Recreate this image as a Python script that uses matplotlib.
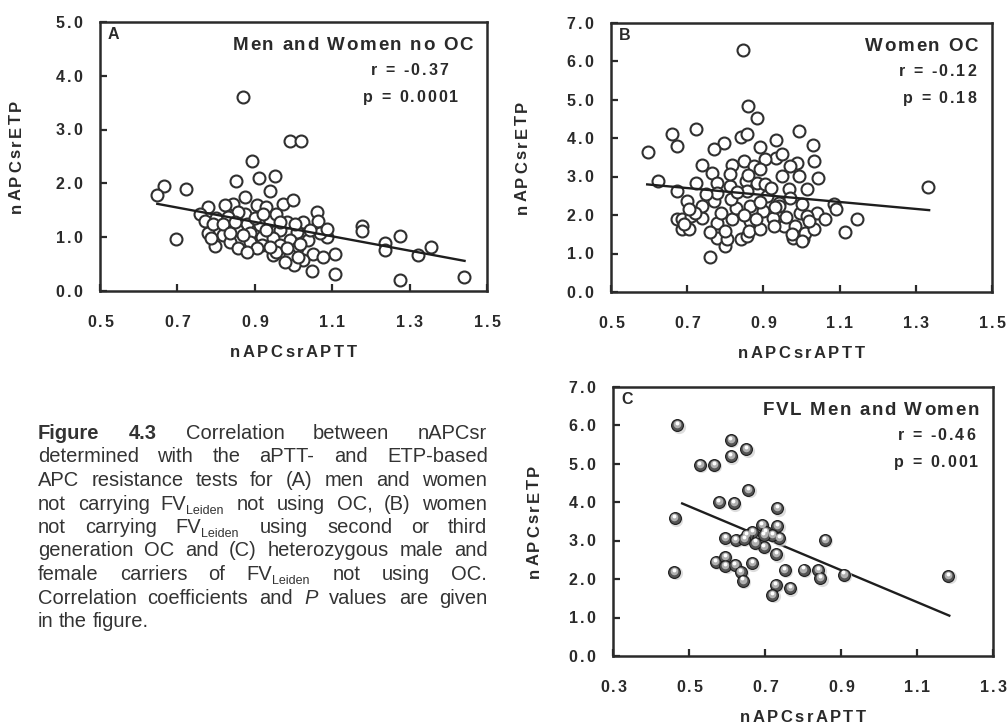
import matplotlib
matplotlib.use("Agg")
import matplotlib.pyplot as plt
from matplotlib.transforms import IdentityTransform, offset_copy
from matplotlib.font_manager import FontProperties, findfont
from matplotlib.ft2font import FT2Font

W, H, DPI = 1008, 724, 100
INK = "#2a2a2a"
FAMILY = "Liberation Sans"

# ---- panel A: men and women no OC
a_x = [0.87, 0.99, 1.02, 0.893, 0.851, 0.912, 0.953, 0.940, 0.665, 0.722, 0.648,
       0.972, 0.998, 0.874, 0.697, 0.797, 1.049, 1.108, 1.106, 1.051, 1.276, 1.276,
       1.237, 1.237, 1.355, 1.322, 1.440, 1.177, 1.177, 1.062, 1.064, 1.086,
       0.844, 0.823, 0.779, 0.905, 0.929, 1.025, 0.982, 0.874, 0.857, 0.758, 0.771,
       0.801, 0.831, 0.879, 0.913, 0.939, 0.965, 1.008, 1.069, 0.853, 0.801, 0.779,
       0.818, 0.887, 0.918, 0.948, 0.991, 1.038, 0.835, 0.857, 0.887, 0.918, 0.965,
       1.008, 0.948, 0.991, 1.025, 1.000, 0.956,
       0.792, 0.818, 0.848, 0.900, 0.922, 0.956, 0.965, 1.004, 0.930, 0.870, 0.835,
       0.788, 0.905, 0.939, 0.982, 1.017, 1.043, 1.086, 0.879, 0.978, 1.012, 1.077]
a_y = [3.60, 2.78, 2.78, 2.41, 2.05, 2.10, 2.14, 1.85, 1.95, 1.90, 1.79,
       1.62, 1.70, 1.74, 0.96, 0.83, 0.37, 0.31, 0.69, 0.69, 0.20, 1.02,
       0.89, 0.77, 0.82, 0.66, 0.26, 1.20, 1.12, 1.46, 1.31, 1.00,
       1.62, 1.59, 1.56, 1.59, 1.56, 1.28, 1.28, 1.44, 1.47, 1.44, 1.31,
       1.35, 1.38, 1.25, 1.22, 1.31, 1.13, 1.10, 1.07, 1.13, 1.16, 1.07,
       1.04, 1.07, 1.01, 0.98, 0.94, 0.94, 0.91, 0.79, 0.91, 0.85, 0.85,
       0.79, 0.67, 0.67, 0.57, 0.48, 0.72,
       1.25, 1.25, 1.28, 1.35, 1.44, 1.44, 1.28, 1.25, 1.13, 1.04, 1.07,
       0.98, 0.79, 0.82, 0.79, 0.88, 1.13, 1.16, 0.73, 0.54, 0.63, 0.63]
a_fit_x = [0.648, 1.442]
a_fit_y = [1.62, 0.56]

# ---- panel B: women OC
b_x = [0.846, 0.860, 0.882, 0.994, 0.722, 0.661, 0.674, 0.598, 0.623, 0.796, 0.770,
       0.840, 0.857, 0.890, 0.933, 1.030, 1.034, 1.042, 0.988, 0.969, 0.993, 1.014,
       0.933, 0.905, 0.848, 0.818, 0.739, 0.766, 0.949, 0.966, 0.855, 0.882, 0.812,
       0.779, 0.722, 0.672, 0.700, 0.674, 0.687, 0.687, 0.704, 0.709, 0.738, 0.739,
       0.770, 0.779, 0.777, 0.800, 0.805, 0.818, 0.827, 0.840, 0.857, 0.866, 0.870,
       0.899, 0.910, 0.925, 0.942, 0.953, 0.979, 0.984, 0.997, 1.004, 1.010, 1.032,
       1.041, 1.061, 1.084, 1.091, 1.115, 1.145, 1.331, 0.759, 0.875, 0.812, 0.892,
       0.779, 0.691, 0.866, 0.862, 0.814, 0.857, 0.905, 1.014, 0.940, 0.975, 1.001,
       0.892, 0.927,
       0.720, 0.750, 0.790, 0.800, 0.830, 0.850, 0.880, 0.890, 0.920, 0.930, 0.960,
       0.970, 1.000, 1.020, 0.705, 0.760, 0.860, 0.950]
b_y = [6.30, 4.83, 4.52, 4.19, 4.23, 4.10, 3.80, 3.64, 2.90, 3.89, 3.71,
       4.04, 4.10, 3.78, 3.95, 3.82, 3.41, 2.97, 3.35, 3.28, 3.03, 2.67,
       3.50, 3.45, 3.41, 3.30, 3.30, 3.10, 3.02, 2.69, 2.90, 2.84, 2.76,
       2.84, 2.84, 2.63, 2.37, 1.90, 1.89, 1.64, 1.63, 1.97, 1.93, 2.23,
       2.37, 1.80, 1.41, 1.19, 1.37, 1.89, 2.19, 1.37, 1.45, 1.84, 2.15,
       2.12, 2.50, 1.93, 2.32, 1.71, 1.41, 1.71, 2.06, 1.37, 1.54, 1.63,
       2.06, 1.89, 2.28, 2.15, 1.56, 1.89, 2.73, 0.91, 3.28, 3.07, 3.19,
       2.58, 1.76, 2.23, 1.58, 2.41, 2.63, 2.80, 1.97, 2.23, 1.50, 1.32,
       1.63, 1.71,
       2.05, 2.55, 2.05, 1.60, 2.60, 2.00, 1.90, 2.35, 2.70, 2.20, 1.95,
       2.45, 2.30, 1.85, 2.15, 1.55, 3.05, 3.60]
b_fit_x = [0.595, 1.335]
b_fit_y = [2.80, 2.13]

# ---- panel C: FVL men and women
c_x = [0.469, 0.610, 0.651, 0.610, 0.529, 0.566, 0.656, 0.579, 0.618, 0.732, 0.462,
       0.461, 0.858, 1.182, 0.908, 0.802, 0.840, 0.846, 0.752, 0.766, 0.728, 0.719,
       0.730, 0.697, 0.674, 0.596, 0.623, 0.666, 0.692, 0.702, 0.732, 0.737, 0.719,
       0.570, 0.595, 0.596, 0.621, 0.636, 0.642, 0.666, 0.652, 0.645, 0.697]
c_y = [6.00, 5.62, 5.38, 5.20, 4.97, 4.97, 4.32, 4.01, 3.97, 3.84, 3.58,
       2.19, 3.02, 2.08, 2.12, 2.25, 2.24, 2.02, 2.24, 1.76, 1.85, 1.59,
       2.65, 2.84, 2.95, 3.06, 3.02, 3.23, 3.41, 3.23, 3.39, 3.06, 3.15,
       2.45, 2.58, 2.34, 2.37, 2.19, 1.96, 2.41, 3.15, 3.05, 3.15]
c_fit_x = [0.482, 1.185]
c_fit_y = [3.97, 1.05]

x_ticks_ab = [0.5, 0.7, 0.9, 1.1, 1.3, 1.5]
x_ticks_c = [0.3, 0.5, 0.7, 0.9, 1.1, 1.3]
y_ticks_a = [0.0, 1.0, 2.0, 3.0, 4.0, 5.0]
y_ticks_bc = [0.0, 1.0, 2.0, 3.0, 4.0, 5.0, 6.0, 7.0]

caption = [
    "**Figure** **4.3** Correlation between nAPCsr",
    "determined with the aPTT- and ETP-based",
    "APC resistance tests for (A) men and women",
    "not carrying FV_Leiden not using OC, (B) women",
    "not carrying FV_Leiden using second or third",
    "generation OC and (C) heterozygous male and",
    "female carriers of FV_Leiden not using OC.",
    "Correlation coefficients and *P* values are given",
    "in the figure.",
]

fig = plt.figure(figsize=(W / DPI, H / DPI), dpi=DPI)
fig.patch.set_facecolor("white")

_fonts = {}


def advances(s, weight, size, style="normal"):
    key = (weight, style)
    if key not in _fonts:
        path = findfont(FontProperties(family=FAMILY, weight=weight, style=style))
        _fonts[key] = FT2Font(path, hinting_factor=1)
    f = _fonts[key]
    f.set_size(size, DPI)
    return [f.load_char(ord(c)).linearHoriAdvance / 65536 for c in s]


def put(x, y, s, size, weight="normal", style="normal", rot=0, color=INK):
    # x, y in image pixels (top-left origin), anchored at left/baseline
    fig.text(x, H - y, s, transform=IdentityTransform(), fontsize=size,
             fontweight=weight, fontstyle=style, family=FAMILY, color=color,
             ha="left", va="baseline", rotation=rot, rotation_mode="anchor")


def spaced(x, y, s, size, track=0.0, ha="left", rot=False, weight="bold"):
    # letter-spaced text, y (or x when rotated) is the cap-height centre
    adv = advances(s, weight, size)
    total = sum(adv) + track * (len(s) - 1)
    half_cap = 0.358 * size * DPI / 72
    start = {"left": 0.0, "center": -total / 2, "right": -total}[ha]
    pos = start
    for c, a in zip(s, adv):
        if c != " ":
            if rot:
                put(x + half_cap, y - pos, c, size, weight, rot=90)
            else:
                put(x + pos, y + half_cap, c, size, weight)
        pos += a + track


def panel(rect, xs, ys, fx, fy, xlim, ylim, xt, yt, letter, title, r_txt, p_txt,
          ylab_x, spheres=False):
    l, t, r, b = rect
    ax = fig.add_axes([l / W, 1 - b / H, (r - l) / W, (b - t) / H])
    ax.set_xlim(*xlim)
    ax.set_ylim(*ylim)
    ax.set_xticks(xt)
    ax.set_yticks(yt)
    ax.tick_params(direction="in", length=5, width=1.6, color=INK,
                   labelbottom=False, labelleft=False)
    for sp in ax.spines.values():
        sp.set_linewidth(1.8)
        sp.set_color(INK)
    if spheres:
        ax.plot(fx, fy, color="#1e1e1e", lw=1.7, zorder=2)
        sh = offset_copy(ax.transData, fig=fig, x=1.0, y=-1.0, units="points")
        ax.plot(xs, ys, "o", ms=9.5, mfc="#cfcfcf", mec="none", alpha=0.7,
                transform=sh, zorder=3)
        ax.plot(xs, ys, "o", ms=8.5, mfc="#555555", mec="#1c1c1c", mew=0.8, zorder=4)
        mid = offset_copy(ax.transData, fig=fig, x=-0.2, y=0.7, units="points")
        ax.plot(xs, ys, "o", ms=5.5, mfc="#b0b0b0", mec="none", transform=mid, zorder=5)
        hi = offset_copy(ax.transData, fig=fig, x=-0.4, y=1.6, units="points")
        ax.plot(xs, ys, "o", ms=2.8, mfc="white", mec="none", transform=hi, zorder=6)
    else:
        ax.plot(xs, ys, "o", ms=8.6, mfc="white", mec="#303030", mew=1.5, zorder=2)
        ax.plot(fx, fy, color="#1e1e1e", lw=1.7, zorder=3)

    for v in xt:
        xd, yd = ax.transData.transform((v, ylim[0]))
        spaced(xd, H - yd + 30, f"{v:.1f}", 11.5, 2.0, ha="center")
    for v in yt:
        xd, yd = ax.transData.transform((xlim[0], v))
        spaced(xd - 18, H - yd, f"{v:.1f}", 11.5, 2.0, ha="right")

    spaced((l + r) / 2, b + 60, "nAPCsrAPTT", 12, 2.2, ha="center")
    spaced(ylab_x, (t + b) / 2, "nAPCsrETP", 12, 2.2, ha="center", rot=True)

    spaced(l + 8, t + 11, letter, 11.5, 0)
    spaced(r - 14, t + 21, title, 13.5, 1.5, ha="right")
    spaced(r - 14 - r_txt[1], t + 47, r_txt[0], 11.5, 2.0, ha="right")
    spaced(r - 14 - p_txt[1], t + 74, p_txt[0], 11.5, 2.0, ha="right")
    return ax


panel((100, 22, 487, 291), a_x, a_y, a_fit_x, a_fit_y, (0.5, 1.5), (0, 5),
      x_ticks_ab, y_ticks_a, "A", "Men and Women no OC", ("r = -0.37", 25),
      ("p = 0.0001", 15), 15)
panel((611, 23, 992, 292), b_x, b_y, b_fit_x, b_fit_y, (0.5, 1.5), (0, 7),
      x_ticks_ab, y_ticks_bc, "B", "Women OC", ("r = -0.12", 2),
      ("p = 0.18", 2), 521)
panel((613, 387, 993, 656), c_x, c_y, c_fit_x, c_fit_y, (0.3, 1.3), (0, 7),
      x_ticks_c, y_ticks_bc, "C", "FVL Men and Women", ("r = -0.46", 4),
      ("p = 0.001", 1), 533, spheres=True)

# ---- justified caption
CAP_SIZE = 14.5
SUB_SIZE = 9
LEFT, RIGHT = 38, 487
BASE0, LEAD = 439, 23.5


def segments(word):
    if word.startswith("**"):
        return [(word.strip("*"), "bold", "normal", CAP_SIZE, 0)]
    if word.startswith("*"):
        return [(word.strip("*"), "normal", "italic", CAP_SIZE, 0)]
    if "_" in word:
        base, sub = word.split("_")
        return [(base, "normal", "normal", CAP_SIZE, 0),
                (sub, "normal", "normal", SUB_SIZE, 4)]
    return [(word, "normal", "normal", CAP_SIZE, 0)]


for i, line in enumerate(caption):
    words = [segments(w) for w in line.split()]
    widths = [sum(sum(advances(t, wt, sz, st)) for t, wt, st, sz, _ in w) for w in words]
    if i < len(caption) - 1:
        gap = (RIGHT - LEFT - sum(widths)) / (len(words) - 1)
    else:
        gap = advances(" ", "normal", CAP_SIZE)[0]
    x = LEFT
    y = BASE0 + i * LEAD
    for w, wd in zip(words, widths):
        xx = x
        for t, wt, st, sz, dy in w:
            put(xx, y + dy, t, sz, wt, st, color="#333333")
            xx += sum(advances(t, wt, sz, st))
        x += wd + gap

fig.savefig("out.png", dpi=DPI)
